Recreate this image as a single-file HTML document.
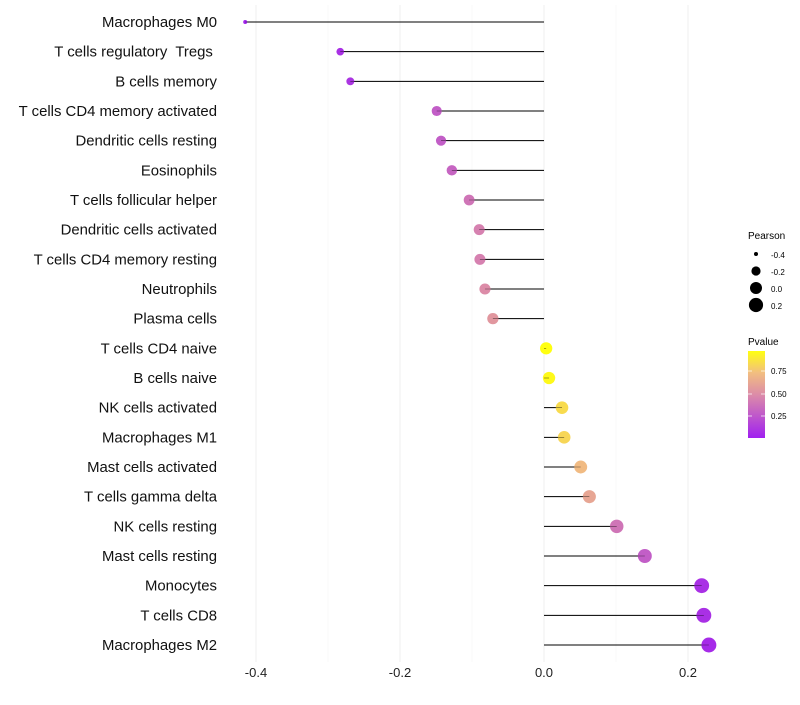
<!DOCTYPE html>
<html><head><meta charset="utf-8"><style>
body{margin:0;background:#fff;font-family:"Liberation Sans",sans-serif}
</style></head><body>
<svg id="chart" width="800" height="700" xmlns="http://www.w3.org/2000/svg" font-family="Liberation Sans, sans-serif">
<defs><linearGradient id="pg" x1="0" y1="1" x2="0" y2="0">
<stop offset="0" stop-color="#a020f0"/><stop offset="0.5" stop-color="#dc8ca8"/><stop offset="0.75" stop-color="#f2be80"/><stop offset="1" stop-color="#ffff10"/></linearGradient></defs>
<g id="grid"></g><g id="marks"></g><g id="labels"></g>
<g>
<text x="748" y="239" font-size="10">Pearson</text>
<circle cx="756" cy="254" r="2" fill="#000"/><text x="771" y="258" font-size="8">-0.4</text>
<circle cx="756" cy="271" r="4.6" fill="#000"/><text x="771" y="275" font-size="8">-0.2</text>
<circle cx="756" cy="288" r="6" fill="#000"/><text x="771" y="292" font-size="8">0.0</text>
<circle cx="756" cy="305" r="7.1" fill="#000"/><text x="771" y="309" font-size="8">0.2</text>
</g>
<g>
<text x="748" y="345" font-size="10">Pvalue</text>
<rect x="748" y="351" width="17" height="87" fill="url(#pg)"/>
<g stroke="#fff" opacity="0.7"><line x1="748" x2="752" y1="371" y2="371"/><line x1="761" x2="765" y1="371" y2="371"/><line x1="748" x2="752" y1="394" y2="394"/><line x1="761" x2="765" y1="394" y2="394"/><line x1="748" x2="752" y1="416" y2="416"/><line x1="761" x2="765" y1="416" y2="416"/></g>
<text x="771" y="374" font-size="8">0.75</text><text x="771" y="397" font-size="8">0.50</text><text x="771" y="419" font-size="8">0.25</text>
</g>
</svg>
<script>
const cells=["Macrophages M0","T cells regulatory  Tregs ","B cells memory","T cells CD4 memory activated","Dendritic cells resting","Eosinophils","T cells follicular helper","Dendritic cells activated","T cells CD4 memory resting","Neutrophils","Plasma cells","T cells CD4 naive","B cells naive","NK cells activated","Macrophages M1","Mast cells activated","T cells gamma delta","NK cells resting","Mast cells resting","Monocytes","T cells CD8","Macrophages M2"];
const pearson=[-0.415,-0.283,-0.269,-0.149,-0.143,-0.128,-0.104,-0.090,-0.089,-0.082,-0.071,0.003,0.007,0.025,0.028,0.051,0.063,0.101,0.140,0.219,0.222,0.229];
const pvalues=[0.05,0.1,0.12,0.3,0.3,0.33,0.4,0.45,0.45,0.5,0.55,0.97,0.95,0.84,0.82,0.72,0.62,0.4,0.3,0.1,0.1,0.08];
const xticks=[-0.4,-0.2,0.0,0.2];
const xtickLabels=["-0.4","-0.2","0.0","0.2"];
const NS="http://www.w3.org/2000/svg";
const x=v=>544+v*720;
const y=i=>22+i*(623/21);
const rad=v=>Math.sqrt(4+(v+0.415)/0.644*52);
function lerp(a,b,t){return a.map((c,i)=>Math.round(c+(b[i]-c)*t));}
const stops=[[0,[160,32,240]],[0.5,[220,140,168]],[0.75,[242,190,128]],[1,[255,255,16]]];
function col(p){const t=Math.min(1,Math.max(0,(p-0.03)/0.94));for(let k=1;k<stops.length;k++){if(t<=stops[k][0]){const s=stops[k-1],e=stops[k];const c=lerp(s[1],e[1],(t-s[0])/(e[0]-s[0]));return `rgb(${c})`;}}return "rgb(255,255,16)";}
function mk(tag,attrs,parent){const e=document.createElementNS(NS,tag);for(const k in attrs)e.setAttribute(k,attrs[k]);parent.appendChild(e);return e;}
const grid=document.getElementById('grid'),marks=document.getElementById('marks'),labels=document.getElementById('labels');
[-0.3,-0.1,0.1].forEach(v=>{const l=mk('line',{x1:x(v),x2:x(v),y1:5,y2:662,stroke:'#f6f6f6','stroke-width':0.6},grid);

});
xticks.forEach((v,i)=>{const l=mk('line',{x1:x(v),x2:x(v),y1:5,y2:662,stroke:'#efefef','stroke-width':1},grid);


const t=mk('text',{x:x(v),y:677,'text-anchor':'middle','font-size':13,fill:'#222'},labels);t.textContent=xtickLabels[i];

});
cells.forEach((c,i)=>{const yy=y(i);
const l=mk('line',{x1:x(0),x2:x(pearson[i]),y1:yy,y2:yy,stroke:'#000','stroke-width':1},marks);


const p=mk('circle',{cx:x(pearson[i]),cy:yy,r:rad(pearson[i]),fill:col(pvalues[i])},marks);


const t=mk('text',{x:217,y:yy+5,'text-anchor':'end','font-size':14.9,fill:'#111','xml:space':'preserve'},labels);t.style.whiteSpace='pre';t.textContent=c;

});
cells.forEach((c,i)=>{mk('line',{x1:x(0),x2:x(pearson[i]),y1:y(i),y2:y(i),stroke:'#000','stroke-width':0.6,opacity:0.6},marks);});
</script>
</body></html>
